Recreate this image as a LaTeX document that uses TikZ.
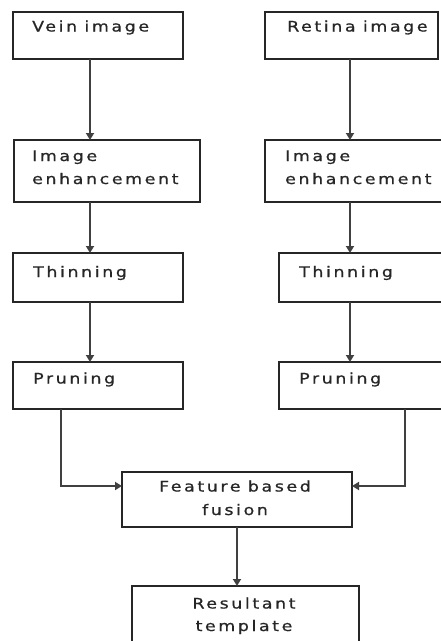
\documentclass[tikz,border=0pt]{standalone}
\usepackage{fontspec}
\setmainfont{DejaVu Sans}[LetterSpace=18, WordSpace=0.9, FakeStretch=1.2, FakeBold=0.8]
\usetikzlibrary{arrows.meta}
\begin{document}
\begin{tikzpicture}[x=1pt,y=-1pt,
  box/.style={draw=black!85, line width=1.5pt, inner sep=0pt, outer sep=0pt, anchor=north west},
  txt/.style={inner sep=0pt, anchor=base west, text=black!85, font=\fontsize{14.5}{23}\selectfont},
  ctxt/.style={inner sep=0pt, anchor=base, text=black!85, font=\fontsize{14.5}{23}\selectfont},
  conn/.style={draw=black!75, line width=1.9pt, -{Triangle[length=7pt,width=8pt]}}]
\useasboundingbox (0,0) rectangle (441,641);
\clip (0,0) rectangle (441,641);
% boxes
\node[box, minimum width=170pt, minimum height=47pt] (vein) at (13,12) {};
\node[box, minimum width=173pt, minimum height=47pt] (ret) at (265,12) {};
\node[box, minimum width=186pt, minimum height=62pt] (enhL) at (14,140) {};
\node[box, minimum width=186pt, minimum height=62pt] (enhR) at (265,140) {};
\node[box, minimum width=170pt, minimum height=49pt] (thinL) at (13,253) {};
\node[box, minimum width=170pt, minimum height=49pt] (thinR) at (279,253) {};
\node[box, minimum width=170pt, minimum height=47pt] (prunL) at (13,362) {};
\node[box, minimum width=170pt, minimum height=47pt] (prunR) at (279,362) {};
\node[box, minimum width=230pt, minimum height=55pt] (feat) at (122,472) {};
\node[box, minimum width=227pt, minimum height=70pt] (res) at (132,586) {};
% texts
\node[txt] (veinT) at (32,31.5) {Vein image};
\node[txt] (retT) at (287,31.5) {Retina image};
\node[txt] (enhLa) at (32,161) {Image};
\node[txt] (enhLb) at (32,184) {enhancement};
\node[txt] (enhRa) at (285,161) {Image};
\node[txt] (enhRb) at (285,184) {enhancement};
\node[txt] (thinLT) at (33,277) {Thinning};
\node[txt] (thinRT) at (299,277) {Thinning};
\node[txt] (prunLT) at (33,383.5) {Pruning};
\node[txt] (prunRT) at (299,383.5) {Pruning};
\node[ctxt] (feata) at (235,491.5) {Feature based};
\node[ctxt] (featb) at (235,515) {fusion};
\node[ctxt] (resa) at (244,608.5) {Resultant};
\node[ctxt] (resb) at (244,631) {template};
% connectors
\coordinate (xL) at (90,0);
\coordinate (xR) at (350,0);
\coordinate (jl) at (61,486);
\coordinate (jr) at (405,486);
\draw[conn] (vein.south -| xL) -- (enhL.north -| xL);
\draw[conn] (enhL.south -| xL) -- (thinL.north -| xL);
\draw[conn] (thinL.south -| xL) -- (prunL.north -| xL);
\draw[conn] (ret.south -| xR) -- (enhR.north -| xR);
\draw[conn] (enhR.south -| xR) -- (thinR.north -| xR);
\draw[conn] (thinR.south -| xR) -- (prunR.north -| xR);
\draw[conn] (prunL.south -| jl) -- (jl) -- (feat.west |- jl);
\draw[conn] (prunR.south -| jr) -- (jr) -- (feat.east |- jr);
\draw[conn] (feat.south) -- (res.north -| feat.south);
\end{tikzpicture}
\end{document}
